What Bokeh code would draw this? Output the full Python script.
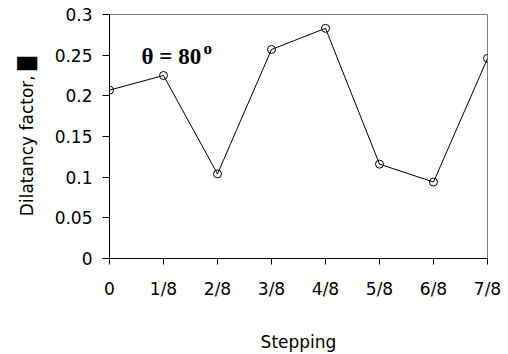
from bokeh.plotting import figure
from bokeh.models import Range1d, FixedTicker, Label
from bokeh.embed import file_html
from bokeh.resources import INLINE

# Data
stepping_labels = ["0", "1/8", "2/8", "3/8", "4/8", "5/8", "6/8", "7/8"]
stepping_pos = [0, 1, 2, 3, 4, 5, 6, 7]
dilatancy = [0.207, 0.225, 0.104, 0.257, 0.283, 0.116, 0.094, 0.246]
y_ticks = [0, 0.05, 0.1, 0.15, 0.2, 0.25, 0.3]
y_tick_labels = ["0", "0.05", "0.1", "0.15", "0.2", "0.25", "0.3"]

FONT = "DejaVu Sans"

p = figure(width=508, height=354, output_backend="svg", toolbar_location=None,
           x_range=Range1d(0, 7), y_range=Range1d(0, 0.3),
           min_border_left=109, min_border_right=21, min_border_top=14, min_border_bottom=96)

p.background_fill_color = "white"
p.border_fill_color = "white"
p.outline_line_color = "#808080"
p.outline_line_width = 1
p.xgrid.visible = False
p.ygrid.visible = False

p.line(stepping_pos, dilatancy, line_color="black", line_width=1)
p.scatter(stepping_pos, dilatancy, marker="circle", size=8, fill_color=None,
          line_color="black", line_width=1)

# X axis
xa = p.xaxis[0]
xa.ticker = FixedTicker(ticks=stepping_pos)
xa.major_label_overrides = {i: s for i, s in zip(stepping_pos, stepping_labels)}
xa.axis_label = "Stepping"
xa.minor_tick_line_color = None
xa.major_tick_in = 0
xa.major_tick_out = 6
xa.major_label_standoff = 14
xa.axis_label_standoff = 30
xa.axis_line_color = "black"
xa.major_tick_line_color = "black"

# Y axis
ya = p.yaxis[0]
ya.ticker = FixedTicker(ticks=y_ticks)
ya.major_label_overrides = {t: s for t, s in zip(y_ticks, y_tick_labels)}
ya.axis_label = "Dilatancy factor, \u2588"
ya.minor_tick_line_color = None
ya.major_tick_in = 0
ya.major_tick_out = 7
ya.major_label_standoff = 10
ya.axis_label_standoff = 15
ya.axis_line_color = "black"
ya.major_tick_line_color = "black"

for ax in (xa, ya):
    ax.major_label_text_font = FONT
    ax.major_label_text_font_size = "17px"
    ax.major_label_text_color = "black"
    ax.axis_label_text_font = FONT
    ax.axis_label_text_font_size = "17px"
    ax.axis_label_text_font_style = "normal"
    ax.axis_label_text_color = "black"

# Annotation theta = 80 with superscript o
p.add_layout(Label(x=0.593, y=0.2478, text="\u03b8 = 80", text_font="Liberation Serif",
                   text_font_style="bold", text_font_size="23px", text_color="black",
                   text_baseline="middle", text_align="left"))
p.add_layout(Label(x=1.74, y=0.2582, text="o", text_font="Liberation Serif",
                   text_font_style="bold", text_font_size="17px", text_color="black",
                   text_baseline="middle", text_align="left"))

open("out.html", "w").write(file_html(p, INLINE))
